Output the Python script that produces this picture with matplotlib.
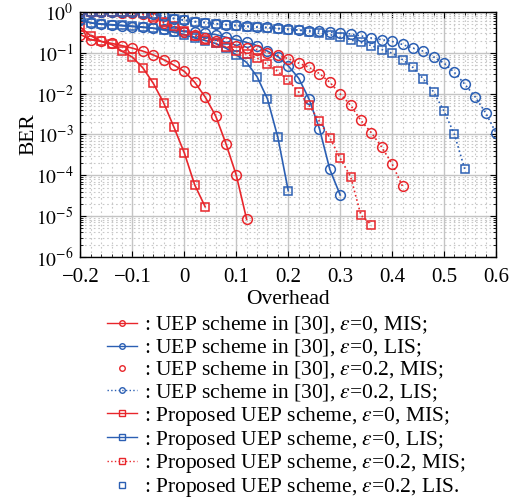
"""BER versus overhead for the UEP schemes (ε = 0 and ε = 0.2, MIS / LIS)."""

import matplotlib

matplotlib.use("Agg")
import matplotlib.pyplot as plt
from matplotlib.lines import Line2D
from matplotlib.ticker import FixedLocator, LogLocator, NullFormatter

plt.rcParams["font.family"] = ["Liberation Serif", "DejaVu Serif"]
plt.rcParams["mathtext.fontset"] = "stix"

RED = "#e8262b"
BLUE = "#2b5fb3"

# Overhead grid shared by all curves (step 0.02)
OVERHEAD = [-0.2, -0.18, -0.16, -0.14, -0.12, -0.1, -0.08, -0.06, -0.04, -0.02,
            0.0, 0.02, 0.04, 0.06, 0.08, 0.1, 0.12, 0.14, 0.16, 0.18,
            0.2, 0.22, 0.24, 0.26, 0.28, 0.3, 0.32, 0.34, 0.36, 0.38,
            0.4, 0.42, 0.44, 0.46, 0.48, 0.5, 0.52, 0.54, 0.56, 0.58, 0.6]

# UEP scheme in [30]
ber_ref_e0_mis = [0.28, 0.21, 0.19, 0.17, 0.15, 0.13, 0.11, 0.089, 0.068, 0.050,
                  0.035, 0.019, 8.3e-3, 2.9e-3, 6.0e-4, 1.0e-4, 8.3e-6]
ber_ref_e0_lis = [0.63, 0.54, 0.50, 0.48, 0.46, 0.44, 0.42, 0.40, 0.38, 0.35,
                  0.33, 0.32, 0.30, 0.28, 0.24, 0.21, 0.18, 0.15, 0.11, 0.081,
                  0.048, 0.024, 7.4e-3, 1.4e-3, 1.4e-4, 3.3e-5]
ber_ref_e2_mis = [0.98, 0.98, 0.98, 0.98, 0.95, 0.93, 0.87, 0.71, 0.54, 0.42,
                  0.33, 0.28, 0.23, 0.20, 0.18, 0.15, 0.13, 0.12, 0.10, 0.087,
                  0.072, 0.056, 0.044, 0.031, 0.019, 9.8e-3, 5.2e-3, 2.2e-3, 1.1e-3, 4.9e-4,
                  1.9e-4, 5.4e-5]
ber_ref_e2_lis = [0.98, 0.98, 0.98, 0.98, 0.98, 0.98, 0.95, 0.89, 0.78, 0.69,
                  0.63, 0.58, 0.55, 0.52, 0.49, 0.47, 0.45, 0.43, 0.42, 0.40,
                  0.38, 0.36, 0.35, 0.34, 0.32, 0.30, 0.29, 0.26, 0.23, 0.21,
                  0.19, 0.16, 0.13, 0.11, 0.079, 0.056, 0.033, 0.017, 8.3e-3, 3.4e-3,
                  1.1e-3]

# Proposed UEP scheme
ber_new_e0_mis = [0.42, 0.26, 0.19, 0.16, 0.11, 0.078, 0.043, 0.018, 6.0e-3, 1.5e-3,
                  3.5e-4, 5.8e-5, 1.7e-5]
ber_new_e0_lis = [0.65, 0.54, 0.51, 0.49, 0.47, 0.45, 0.43, 0.40, 0.36, 0.32,
                  0.28, 0.23, 0.20, 0.17, 0.13, 0.089, 0.058, 0.026, 7.4e-3, 8.5e-4,
                  4.2e-5]
ber_new_e2_mis = [0.98, 0.98, 0.98, 0.98, 0.98, 0.98, 0.93, 0.76, 0.56, 0.45,
                  0.35, 0.26, 0.21, 0.17, 0.14, 0.11, 0.093, 0.074, 0.052, 0.035,
                  0.021, 0.011, 5.2e-3, 2.1e-3, 8.3e-4, 2.6e-4, 9.3e-5, 1.05e-5, 6.2e-6]
ber_new_e2_lis = [0.98, 0.98, 0.98, 0.98, 0.98, 0.98, 0.95, 0.89, 0.78, 0.69,
                  0.63, 0.58, 0.55, 0.52, 0.49, 0.46, 0.44, 0.42, 0.41, 0.39,
                  0.37, 0.36, 0.33, 0.30, 0.28, 0.24, 0.21, 0.18, 0.15, 0.12,
                  0.098, 0.068, 0.044, 0.023, 0.011, 3.7e-3, 1.0e-3, 1.4e-4]

X_TICKS = [-0.2, -0.1, 0.0, 0.1, 0.2, 0.3, 0.4, 0.5, 0.6]
X_TICK_LABELS = ["\u22120.2", "\u22120.1", "0", "0.1", "0.2", "0.3", "0.4", "0.5", "0.6"]
Y_EXPONENTS = [0, -1, -2, -3, -4, -5, -6]

LABELS = [
    r": UEP scheme in [30], $\varepsilon$=0, MIS;",
    r": UEP scheme in [30], $\varepsilon$=0, LIS;",
    r": UEP scheme in [30], $\varepsilon$=0.2, MIS;",
    r": UEP scheme in [30], $\varepsilon$=0.2, LIS;",
    r": Proposed UEP scheme, $\varepsilon$=0, MIS;",
    r": Proposed UEP scheme, $\varepsilon$=0, LIS;",
    r": Proposed UEP scheme, $\varepsilon$=0.2, MIS;",
    r": Proposed UEP scheme, $\varepsilon$=0.2, LIS.",
]

# (data, colour, linestyle, marker, show line in legend)
SERIES = [
    (ber_ref_e0_mis, RED, "-", "o", True),
    (ber_ref_e0_lis, BLUE, "-", "o", True),
    (ber_ref_e2_mis, RED, ":", "o", False),
    (ber_ref_e2_lis, BLUE, ":", "o", True),
    (ber_new_e0_mis, RED, "-", "s", True),
    (ber_new_e0_lis, BLUE, "-", "s", True),
    (ber_new_e2_mis, RED, ":", "s", True),
    (ber_new_e2_lis, BLUE, ":", "s", False),
]

fig = plt.figure(figsize=(5.21, 4.99), dpi=100)
ax = fig.add_axes([0.1545, 0.485, 0.7975, 0.491])

handles = []
for (ber, color, ls, marker, legend_line), label in zip(SERIES, LABELS):
    x = OVERHEAD[: len(ber)]
    msize = 7 if marker == "o" else 5.5
    ax.plot(x, ber, color=color, linestyle=ls, linewidth=1.2,
            marker=marker, markersize=msize, markerfacecolor="none",
            markeredgewidth=1.1)
    handles.append(Line2D([], [], color=color, linestyle=ls if legend_line else "none",
                          linewidth=1.0, marker=marker, markersize=4,
                          markerfacecolor="none", markeredgewidth=1.0, label=label))

ax.set_yscale("log")
ax.set_xlim(-0.2, 0.6)
ax.set_ylim(1e-6, 1)
ax.set_xticks(X_TICKS)
ax.set_xticklabels(X_TICK_LABELS)
ax.xaxis.set_minor_locator(FixedLocator([t / 100 for t in range(-20, 61, 2)]))
ax.set_yticks([10.0 ** e for e in Y_EXPONENTS])
ax.set_yticklabels([f"$10^{{{e}}}$" if e == 0 else f"$10^{{\u2212{-e}}}$"
                    for e in Y_EXPONENTS])
ax.yaxis.set_minor_locator(LogLocator(base=10, subs=range(2, 10)))
ax.yaxis.set_minor_formatter(NullFormatter())

ax.grid(True, which="major", color="#c4c4c4", linewidth=1.0, linestyle="-")
ax.grid(True, which="minor", color="#c8c8c8", linewidth=0.8, linestyle=(0, (1.5, 2.5)))
ax.set_axisbelow(True)
ax.tick_params(which="both", direction="in", top=True, right=True)
ax.tick_params(which="major", length=4)
ax.tick_params(which="minor", length=2)
ax.tick_params(axis="x", which="major", pad=8, labelsize=15)
ax.tick_params(axis="y", which="major", pad=5, labelsize=14)
for spine in ax.spines.values():
    spine.set_linewidth(1.0)

ax.set_xlabel("Overhead", fontsize=15.5, labelpad=2)
ax.set_ylabel("BER", fontsize=15.5)
ax.yaxis.set_label_coords(-0.102, 0.5)

fig.legend(handles=handles, loc="upper left", bbox_to_anchor=(0.205, 0.369),
           frameon=False, fontsize=15.5, handlelength=1.4, handletextpad=0.33,
           labelspacing=0.04, borderpad=0, borderaxespad=0)

fig.savefig("out.png", dpi=100)
plt.close(fig)
